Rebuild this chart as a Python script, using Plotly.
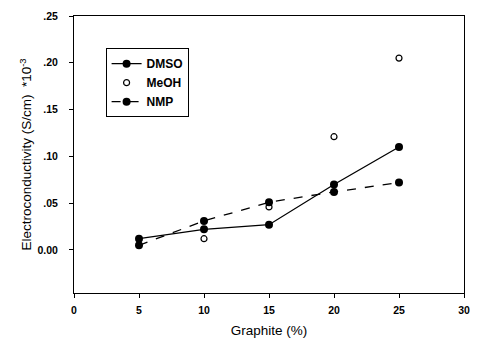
import plotly.graph_objects as go

graphite = [5, 10, 15, 20, 25]
dmso = [0.012, 0.022, 0.027, 0.070, 0.110]
meoh_x = [10, 15, 20, 25]
meoh = [0.012, 0.046, 0.121, 0.205]
nmp = [0.005, 0.031, 0.051, 0.062, 0.072]

x_ticks = [0, 5, 10, 15, 20, 25, 30]
y_ticks = [0.0, 0.05, 0.10, 0.15, 0.20, 0.25]
y_ticklabels = ["0.00", ".05", ".10", ".15", ".20", ".25"]

fig = go.Figure()
fig.add_trace(go.Scatter(x=graphite, y=dmso, name="DMSO", mode="lines+markers",
                         line=dict(color="black", width=1.3),
                         marker=dict(symbol="circle", size=8, color="black")))
fig.add_trace(go.Scatter(x=meoh_x, y=meoh, name="MeOH", mode="markers",
                         marker=dict(symbol="circle-open", size=6, color="black",
                                     line=dict(width=1.2))))
fig.add_trace(go.Scatter(x=graphite, y=nmp, name="NMP", mode="lines+markers",
                         line=dict(color="black", width=1.3, dash="dash"),
                         marker=dict(symbol="circle", size=8, color="black")))

font = dict(family="Liberation Sans, Arial, sans-serif", color="black")
tickfont = dict(family="Liberation Sans, Arial, sans-serif",
                size=10.5, color="black", weight="bold")

fig.update_layout(
    width=477, height=343,
    margin=dict(l=74, r=7, t=16, b=50),
    paper_bgcolor="white", plot_bgcolor="white",
    font=font,
    showlegend=True,
    legend=dict(x=0.081, y=0.884, xanchor="left", yanchor="top",
                bordercolor="black", borderwidth=1, bgcolor="white",
                font=dict(family=font["family"], size=12, color="black", weight="bold"),
                tracegroupgap=0, itemwidth=30),
    xaxis=dict(range=[0, 30], tickvals=x_ticks, ticktext=[str(v) for v in x_ticks],
               showgrid=False, zeroline=False, showline=True, linecolor="black",
               linewidth=1, mirror=True, ticks="outside", ticklen=4, tickcolor="black",
               tickfont=tickfont, ticklabelstandoff=3,
               title=dict(text="Graphite (%)", font=dict(size=13.5), standoff=10)),
    yaxis=dict(range=[-0.046, 0.25], tickvals=y_ticks, ticktext=y_ticklabels,
               showgrid=False, zeroline=False, showline=True, linecolor="black",
               linewidth=1, mirror=True, ticks="outside", ticklen=4, tickcolor="black",
               tickfont=tickfont, ticklabelstandoff=9,
               title=dict(text="Electroconductivity (S/cm)  *10<sup>-3</sup>",
                          font=dict(size=13.5), standoff=2)),
)

fig.write_html("out.html")
